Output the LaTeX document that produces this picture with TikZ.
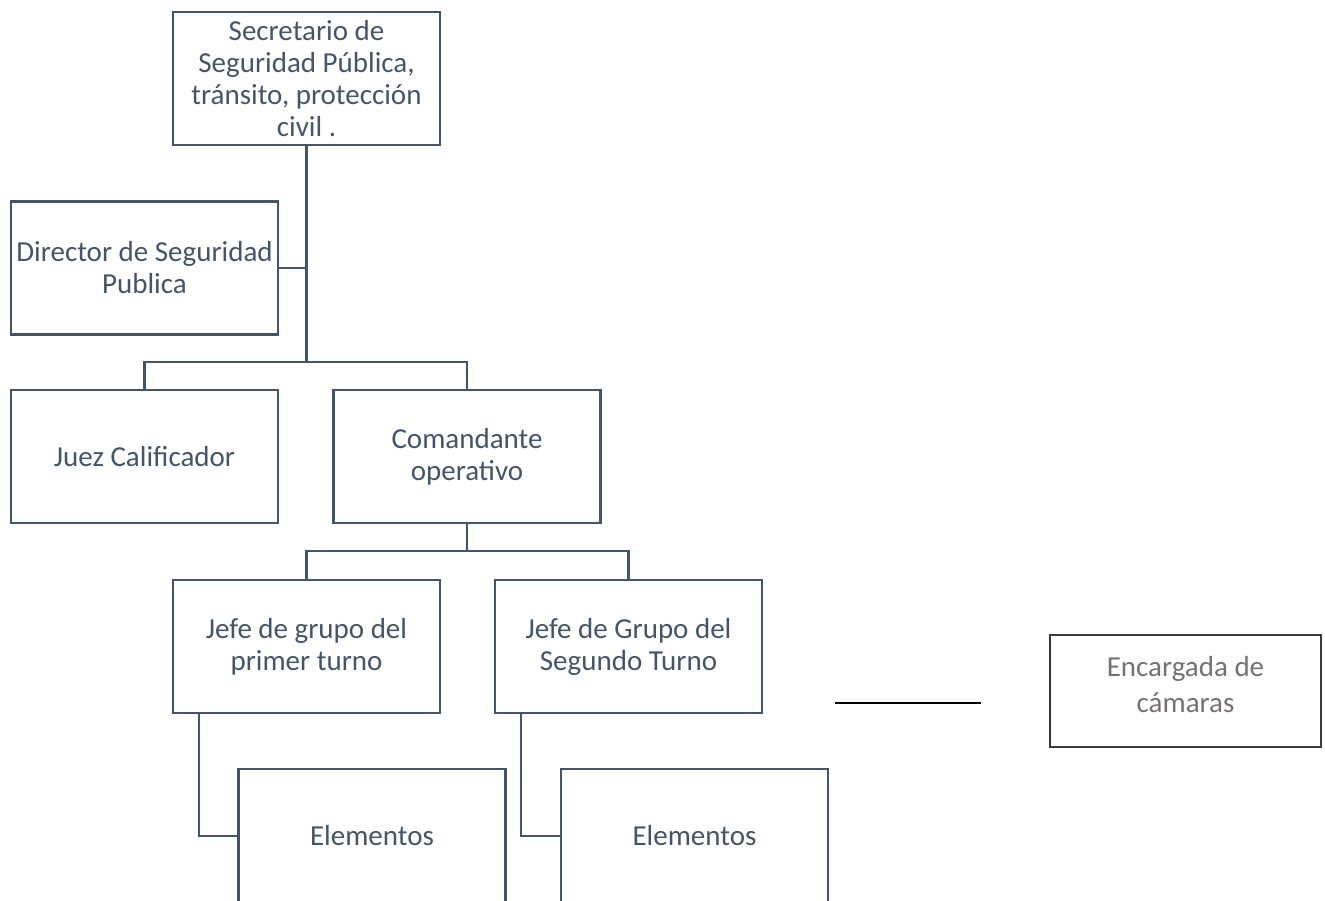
\documentclass[tikz,border=0pt]{standalone}
\usepackage{fontspec}
\setmainfont{Carlito}
\definecolor{slate}{HTML}{44546A}
\definecolor{gtext}{HTML}{767171}
\definecolor{dborder}{HTML}{3A3A3A}
\begin{document}
\begin{tikzpicture}[x=1pt,y=-1pt,
  box/.style={draw=slate,line width=2.4pt,rectangle,inner sep=0pt,minimum width=267pt,minimum height=133pt,align=center,text=slate,font=\fontsize{29}{32}\selectfont},
  conn/.style={draw=slate,line width=2.4pt}]
\useasboundingbox (0,0) rectangle (1325,900);
\clip (0,0) rectangle (1325,900);
\node[box] (sec) at (306.5,78.5) {Secretario de\\Seguridad Pública,\\tránsito, protección\\civil .};
\node[box] (dir) at (144.5,268) {Director de Seguridad\\Publica};
\node[box] (juez) at (144.5,456.5) {Juez Calificador};
\node[box] (com) at (467,456.5) {Comandante\\operativo};
\node[box] (j1) at (306.5,646.5) {Jefe de grupo del\\primer turno};
\node[box] (j2) at (628.5,646.5) {Jefe de Grupo del\\Segundo Turno};
\node[box,minimum height=134pt] (e1) at (372,836) {Elementos};
\node[box,minimum height=134pt] (e2) at (694.5,836) {Elementos};
\node[draw=dborder,line width=2.6pt,rectangle,inner sep=0pt,minimum width=271pt,minimum height=112pt,text=gtext,font=\fontsize{29}{36}\selectfont] (enc) at (1185.5,691) {\raisebox{4pt}[\height][\depth]{\begin{tabular}{@{}c@{}}Encargada de\\cámaras\end{tabular}}};
\coordinate (h1) at (306.5,362);
\coordinate (h2) at (467,551);
\coordinate (l1) at (835,703);
\coordinate (l2) at (981,703);
\draw[conn] (sec.south) -- (h1);
\draw[conn] (dir.east) -- (dir.east -| sec.south);
\draw[conn] (juez.north) |- (h1) -| (com.north);
\draw[conn] (com.south) -- (h2);
\draw[conn] (j1.north) |- (h2) -| (j2.north);
\draw[conn] ([xshift=27pt]j1.south west) |- (e1.west);
\draw[conn] ([xshift=27pt]j2.south west) |- (e2.west);
\draw[black,line width=1.3pt] (l1) -- (l2);
\end{tikzpicture}
\end{document}
